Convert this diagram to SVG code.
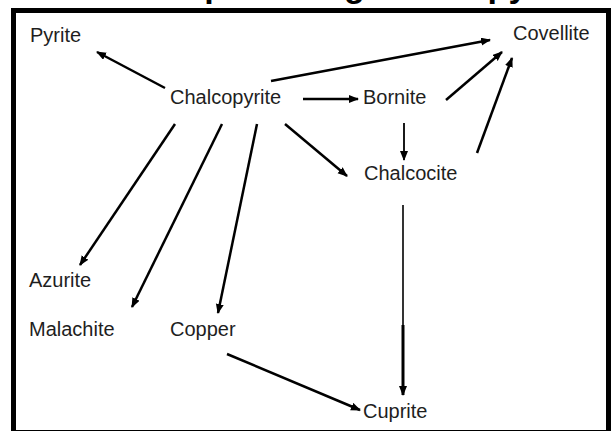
<svg xmlns="http://www.w3.org/2000/svg" width="616" height="431" viewBox="0 0 616 431">
<style>
.lbl{font-family:"Liberation Sans",Arial,sans-serif;font-size:20px;fill:#1e1e1e}
.ttl{font-family:"Liberation Sans",Arial,sans-serif;font-size:34px;font-weight:bold;fill:#000}
.c{stroke:#000;stroke-width:2.5;fill:none;marker-end:url(#ah)}
</style>
<defs>
<marker id="ah" markerUnits="userSpaceOnUse" markerWidth="12" markerHeight="10" refX="9" refY="4" orient="auto">
<path d="M0,0 L10,4 L0,8 Z" fill="#000"/>
</marker>
</defs>
<rect width="616" height="431" fill="#fff"/>
<text class="ttl" x="21" y="-3">Relationships among Chalcopyrite</text>
<rect x="13.5" y="10.5" width="595" height="422" fill="none" stroke="#000" stroke-width="5"/>
<g id="connectors">
<line class="c" x1="165" y1="88" x2="97" y2="52"/>
<line class="c" x1="271" y1="81" x2="490" y2="40"/>
<line class="c" x1="303" y1="99" x2="358" y2="99"/>
<line class="c" x1="285" y1="124" x2="347" y2="176"/>
<line class="c" x1="175" y1="124" x2="80" y2="265"/>
<line class="c" x1="222" y1="124" x2="132" y2="307"/>
<line class="c" x1="257" y1="124" x2="218" y2="313"/>
<line class="c" style="stroke-width:1.8" x1="404" y1="123" x2="404" y2="160"/>
<line class="c" x1="446" y1="100" x2="502" y2="52"/>
<line class="c" x1="477" y1="153" x2="512" y2="58"/>
<line x1="403" y1="205" x2="403" y2="326" stroke="#000" stroke-width="1.6"/>
<line class="c" style="stroke-width:3" x1="403" y1="325" x2="403" y2="395"/>
<line class="c" x1="227" y1="354" x2="360" y2="410"/>
</g>
<g id="pyrite"><text class="lbl" x="30" y="42">Pyrite</text></g>
<g id="chalcopyrite"><text class="lbl" x="170" y="104">Chalcopyrite</text></g>
<g id="covellite"><text class="lbl" x="513" y="40">Covellite</text></g>
<g id="bornite"><text class="lbl" x="363" y="104">Bornite</text></g>
<g id="chalcocite"><text class="lbl" x="364" y="180">Chalcocite</text></g>
<g id="azurite"><text class="lbl" x="29" y="287">Azurite</text></g>
<g id="malachite"><text class="lbl" x="29" y="336">Malachite</text></g>
<g id="copper"><text class="lbl" x="170" y="336">Copper</text></g>
<g id="cuprite"><text class="lbl" x="363" y="418">Cuprite</text></g>
</svg>
